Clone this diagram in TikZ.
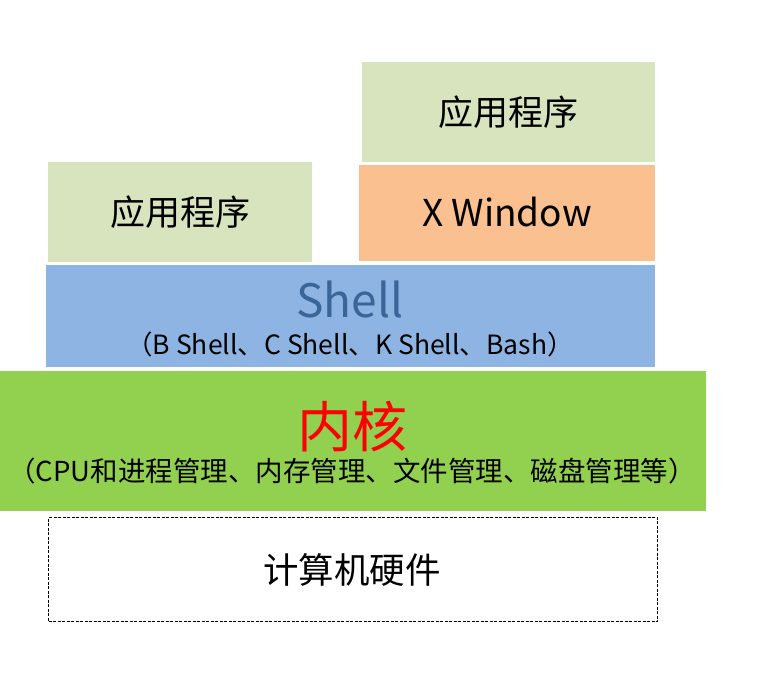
\documentclass[tikz,border=0pt]{standalone}
\usepackage{fontspec}
\setmainfont{Noto Sans CJK SC}
\definecolor{appgreen}{HTML}{D7E4BD}
\definecolor{xorange}{HTML}{FAC090}
\definecolor{shellblue}{HTML}{8EB4E3}
\definecolor{shelltext}{HTML}{3A6598}
\definecolor{kgreen}{HTML}{92D050}
\begin{document}
\begin{tikzpicture}[x=1pt,y=-1pt,
  layer/.style={rectangle,inner sep=0pt,draw=none,anchor=north west},
  lbl/.style={inner sep=0pt,anchor=center,text=black}]
\useasboundingbox (0,0) rectangle (769,682);
% boxes
\node[layer,fill=appgreen,minimum width=264pt,minimum height=100pt] (appL) at (48,162) {};
\node[layer,fill=appgreen,minimum width=293pt,minimum height=100pt] (appR) at (362,62) {};
\node[layer,fill=xorange,minimum width=296pt,minimum height=96pt] (xwin) at (359,165) {};
\node[layer,fill=shellblue,minimum width=609pt,minimum height=102pt] (shell) at (46,265) {};
\node[layer,fill=kgreen,minimum width=706pt,minimum height=140pt] (kernel) at (0,371) {};
\node[layer,draw=black,line width=1.3pt,dash pattern=on 3pt off 1.5pt,minimum width=609pt,minimum height=104pt] (hw) at (48,517) {};
% texts
\node[lbl,font=\fontsize{35}{40}\selectfont] (tAppL) at (180,212) {应用程序};
\node[lbl,font=\fontsize{35}{40}\selectfont] (tAppR) at (508,112) {应用程序};
\node[lbl,font=\fontsize{37}{42}\selectfont] (tX) at (507,212) {X Window};
\node[lbl,font=\fontsize{46}{52}\selectfont,text=shelltext] (tShell) at (350,299) {Shell};
\node[lbl,font=\fontsize{26.5}{31}\selectfont] (tShellSub) at (350,344) {（B Shell、C Shell、K Shell、Bash）};
\node[lbl,font=\fontsize{55}{62}\selectfont,text=red] (tKernel) at (352,427) {内核};
\node[lbl,font=\fontsize{27.5}{32}\selectfont] (tKernelSub) at (352,471) {（CPU和进程管理、内存管理、文件管理、磁盘管理等）};
\node[lbl,font=\fontsize{35.5}{40}\selectfont] (tHw) at (352,570) {计算机硬件};
\end{tikzpicture}
\end{document}
